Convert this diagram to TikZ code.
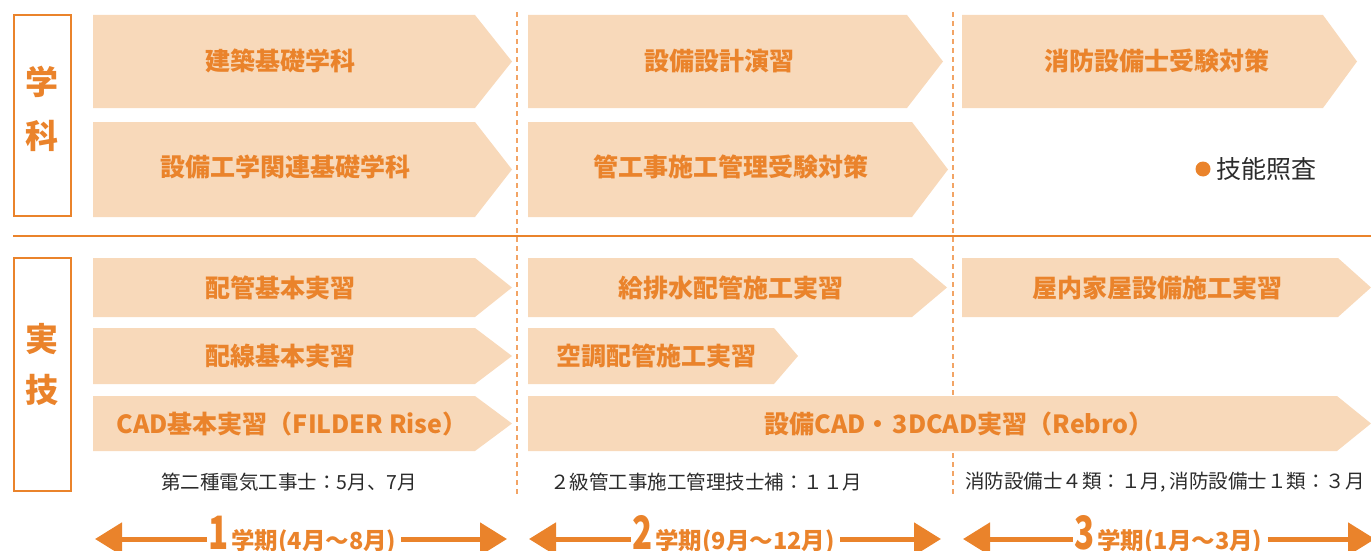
\documentclass[tikz,border=0pt]{standalone}
\usepackage{fontspec}
\newfontfamily\jp{Noto Sans CJK JP}
\usetikzlibrary{arrows.meta,calc}
\definecolor{bandfill}{HTML}{F8D9BA}
\definecolor{accent}{HTML}{EA832B}
\definecolor{guide}{HTML}{F2A465}
\definecolor{ink}{HTML}{2B2B2B}

% chevron band: x0, y0, x body end, x tip, y1
\newcommand\stageband[5]{%
  \fill[bandfill] (#1,#2) -- (#3,#2) -- (#4,{(#2+#5)/2}) -- (#3,#5) -- (#1,#5) -- cycle;}
\newcommand\bigdigit[1]{{\fontsize{46}{46}\selectfont\scalebox{0.72}[1]{#1}}}

\tikzset{
  bandtext/.style={font=\jp\bfseries\fontsize{25}{28}\selectfont, text=accent, inner sep=0pt},
  catbox/.style={draw=accent, line width=2.4pt, minimum width=57pt, inner sep=0pt},
  cattext/.style={font=\jp\bfseries\fontsize{33}{36}\selectfont, text=accent, inner sep=0pt},
  examtext/.style={font=\jp\fontsize{19.5}{22}\selectfont, text=ink, inner sep=0pt},
  guideline/.style={draw=guide, line width=1.3pt, dash pattern=on 5pt off 4pt},
  period/.style={font=\jp\bfseries\fontsize{23.5}{24}\selectfont, text=accent, inner sep=0pt},
  periodline/.style={draw=accent, line width=5pt, -{Triangle[length=27pt,width=32pt]}},
}

\begin{document}
\begin{tikzpicture}[x=1pt,y=-1pt]
\useasboundingbox (0,0) rectangle (1371,551);

% term separators
\draw[guideline] (517,12) -- (517,495);
\draw[guideline] (953,12) -- (953,495);
% section separator
\draw[accent, line width=1.5pt] (13,236) -- (1371,236);

% category boxes
\node[catbox, minimum height=201pt] (gakka) at (42.5,115.5) {};
\node[cattext] (gakka1) at (42,82) {学};
\node[cattext] (gakka2) at (42,136) {科};
\node[catbox, minimum height=233pt] (jitsugi) at (42.5,374.5) {};
\node[cattext] (jitsugi1) at (42,339) {実};
\node[cattext] (jitsugi2) at (42,390) {技};

% coursework bands
\stageband{93}{15}{475}{512}{108}
\stageband{528}{15}{907}{943}{108}
\stageband{962}{15}{1323}{1357}{108}
\stageband{93}{122}{475}{512}{217}
\stageband{528}{122}{912}{948}{217}
\node[bandtext] (c11) at (280,61) {建築基礎学科};
\node[bandtext] (c12) at (719,61) {設備設計演習};
\node[bandtext] (c13) at (1157,61) {消防設備士受験対策};
\node[bandtext] (c21) at (285,167) {設備工学関連基礎学科};
\node[bandtext] (c22) at (731,167) {管工事施工管理受験対策};
\node[circle, fill=accent, minimum size=15pt, inner sep=0pt] (dot) at (1203,169) {};
\node[examtext, font=\jp\fontsize{25}{28}\selectfont, anchor=west] (check) at (1216,169) {技能照査};

% practical bands
\stageband{93}{258}{475}{512}{317}
\stageband{528}{258}{912}{947}{317}
\stageband{962}{258}{1338}{1371}{317}
\stageband{93}{328}{475}{512}{384}
\stageband{528}{328}{774}{798}{384}
\stageband{93}{396}{475}{512}{451}
\stageband{528}{396}{1337}{1371}{451}
\node[bandtext] (p11) at (280,288) {配管基本実習};
\node[bandtext] (p12) at (731,288) {給排水配管施工実習};
\node[bandtext] (p13) at (1157,288) {屋内家屋設備施工実習};
\node[bandtext] (p21) at (280,356) {配線基本実習};
\node[bandtext] (p22) at (656,356) {空調配管施工実習};
\node[bandtext] (p31) at (292,424) {CAD基本実習（FILDER Rise）};
\node[bandtext] (p32) at (959,424) {設備CAD・\hspace{2pt}3DCAD実習（Rebro）};

% exams
\node[examtext] (e1) at (289,482) {第二種電気工事士：5月、7月};
\node[examtext] (e2) at (706,482) {２級管工事施工管理技士補：１１月};
\node[examtext] (e3) at (1165,482) {消防設備士４類：１月, 消防設備士１類：３月};

% terms
\coordinate (t1l) at (95,539);  \coordinate (t1r) at (507,539);
\coordinate (t2l) at (529,539); \coordinate (t2r) at (941,539);
\coordinate (t3l) at (963,539); \coordinate (t3r) at (1375,539);
\node[period, anchor=base west] (s1) at (208,549) {\bigdigit{1}\hspace{3pt}学期(4月～8月)};
\node[period, anchor=base west] (s2) at (632,549) {\bigdigit{2}\hspace{3pt}学期(9月～12月)};
\node[period, anchor=base west] (s3) at (1074,549) {\bigdigit{3}\hspace{3pt}学期(1月～3月)};
\draw[periodline] ($(s1.west |- t1l)+(-1,0)$) -- (t1l);
\draw[periodline] ($(s1.east |- t1r)+(5,0)$) -- (t1r);
\draw[periodline] ($(s2.west |- t2l)+(-1,0)$) -- (t2l);
\draw[periodline] ($(s2.east |- t2r)+(5,0)$) -- (t2r);
\draw[periodline] ($(s3.west |- t3l)+(-1,0)$) -- (t3l);
\draw[periodline] ($(s3.east |- t3r)+(5,0)$) -- (t3r);
\end{tikzpicture}
\end{document}
